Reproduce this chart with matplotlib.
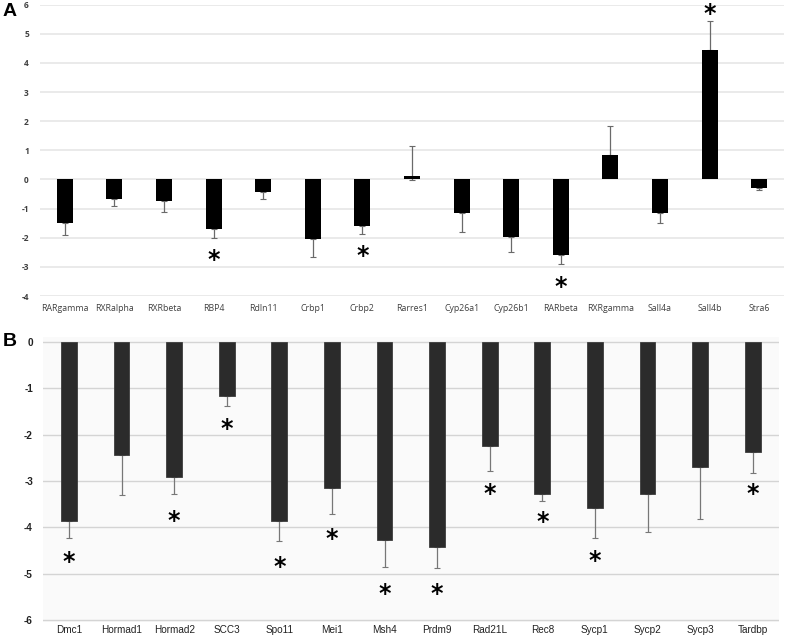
import numpy as np
import matplotlib
matplotlib.use("Agg")
import matplotlib.pyplot as plt

# Panel A: retinoic acid pathway genes
genes_a = ["RARgamma", "RXRalpha", "RXRbeta", "RBP4", "Rdln11", "Crbp1", "Crbp2",
           "Rarres1", "Cyp26a1", "Cyp26b1", "RARbeta", "RXRgamma", "Sall4a",
           "Sall4b", "Stra6"]
values_a = [-1.49, -0.68, -0.73, -1.70, -0.44, -2.06, -1.60,
            0.12, -1.14, -1.98, -2.59, 0.85, -1.14, 4.43, -0.28]
err_low_a = [0.42, 0.22, 0.40, 0.31, 0.22, 0.60, 0.26,
             0.15, 0.67, 0.52, 0.31, 0.0, 0.36, 0.0, 0.09]
err_up_a = [0.0, 0.0, 0.0, 0.0, 0.0, 0.0, 0.0,
            1.02, 0.0, 0.0, 0.0, 1.00, 0.0, 1.00, 0.0]
stars_a = [None, None, None, -2.69, None, None, -2.55,
           None, None, None, -3.60, None, None, 5.77, None]
yticks_a = list(range(-4, 7))

# Panel B: meiosis genes
genes_b = ["Dmc1", "Hormad1", "Hormad2", "SCC3", "Spo11", "Mei1", "Msh4",
           "Prdm9", "Rad21L", "Rec8", "Sycp1", "Sycp2", "Sycp3", "Tardbp"]
values_b = [-3.87, -2.44, -2.91, -1.17, -3.86, -3.14, -4.27,
            -4.42, -2.24, -3.29, -3.59, -3.28, -2.69, -2.37]
err_b = [0.35, 0.86, 0.36, 0.21, 0.43, 0.57, 0.59,
         0.45, 0.54, 0.13, 0.65, 0.81, 1.13, 0.46]
stars_b = [-4.69, None, -3.81, -1.83, -4.80, -4.20, -5.39,
           -5.39, -3.23, -3.82, -4.68, None, None, -3.23]
yticks_b = list(range(-6, 1))

fig = plt.figure(figsize=(7.87, 6.35), dpi=100)

# ---- Panel A ----
ax_a = fig.add_axes([40 / 787, 1 - 296 / 635, 744 / 787, 291.3 / 635])
x_a = np.arange(len(genes_a))
ax_a.bar(x_a, values_a, width=0.32, color="black", zorder=3)
ax_a.errorbar(x_a, values_a, yerr=[err_low_a, err_up_a], fmt="none",
              ecolor="#6a6a6a", elinewidth=0.9, capsize=2, capthick=0.8,
              zorder=2)
for xi, s in zip(x_a, stars_a):
    if s is not None:
        ax_a.text(xi, s, "*", ha="center", va="center_baseline",
                  fontsize=17, fontweight="bold", family="DejaVu Sans")
ax_a.set_xlim(-0.5, len(genes_a) - 0.5)
ax_a.set_ylim(-4, 6)
ax_a.set_yticks(yticks_a)
ax_a.set_xticks(x_a)
ax_a.set_xticklabels(genes_a, family="Open Sans", fontsize=6.3, color="#404040")
ax_a.set_yticklabels([str(t) for t in yticks_a], family="Open Sans",
                     fontsize=6, color="#404040", fontweight="bold")
ax_a.tick_params(length=0, pad=6)
ax_a.tick_params(axis="y", pad=8)
ax_a.grid(axis="y", color="#e6e6e6", linewidth=1.2, zorder=0)
for sp in ax_a.spines.values():
    sp.set_visible(False)
fig.text(3 / 787, 1 - 11 / 635, "A", fontsize=14, fontweight="bold",
         family="Liberation Sans", va="center")

# ---- Panel B ----
ax_b = fig.add_axes([42.7 / 787, 1 - 622.3 / 635, 736.3 / 787, 284.8 / 635])
x_b = np.arange(len(genes_b))
ax_b.set_facecolor("#fafafa")
ax_b.bar(x_b, values_b, width=0.30, color="#2b2b2b", edgecolor="#3c3c3c",
         linewidth=0.6, zorder=3)
ax_b.errorbar(x_b, values_b, yerr=[err_b, [0] * len(err_b)], fmt="none",
              ecolor="#777777", elinewidth=0.9, capsize=2, capthick=0.8,
              zorder=2)
for xi, s in zip(x_b, stars_b):
    if s is not None:
        ax_b.text(xi, s, "*", ha="center", va="center_baseline",
                  fontsize=17, fontweight="bold", family="DejaVu Sans")
ax_b.set_xlim(-0.5, len(genes_b) - 0.5)
ax_b.set_ylim(-6.05, 0.1)
ax_b.set_yticks(yticks_b)
ax_b.set_xticks(x_b)
ax_b.set_xticklabels(genes_b, family="Liberation Sans", fontsize=7.2,
                     color="#222222")
ax_b.set_yticklabels([str(t) for t in yticks_b], family="Liberation Sans",
                     fontsize=7.2, color="#222222", fontweight="bold")
ax_b.tick_params(length=0, pad=2)
ax_b.tick_params(axis="y", pad=7)
ax_b.grid(axis="y", color="#d4d4d4", linewidth=1.0, zorder=0)
for sp in ax_b.spines.values():
    sp.set_visible(False)
fig.text(3 / 787, 1 - 342 / 635, "B", fontsize=14, fontweight="bold",
         family="Liberation Sans", va="center")

fig.savefig("out.png", dpi=100)
